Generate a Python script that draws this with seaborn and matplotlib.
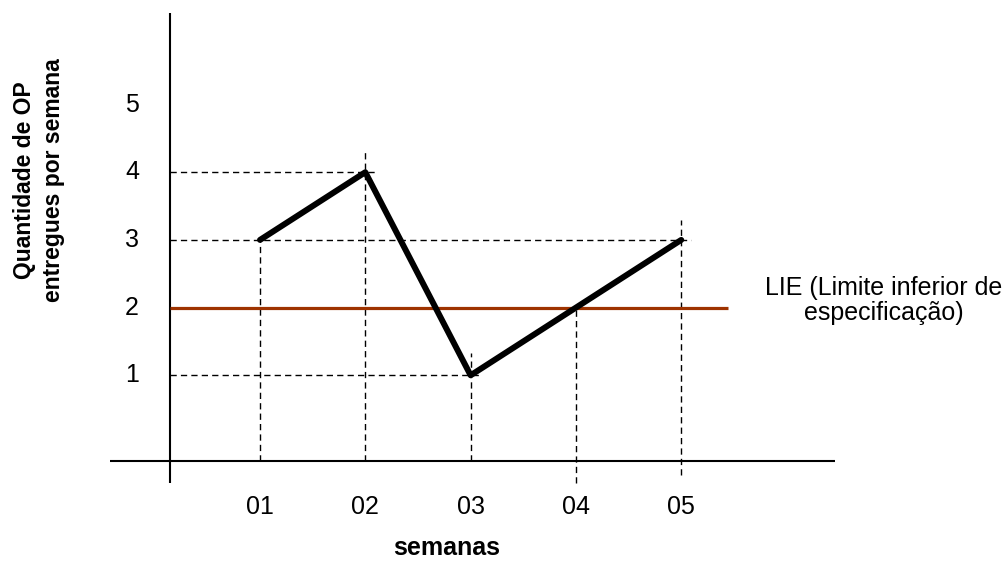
import numpy as np
import pandas as pd
import matplotlib
matplotlib.use("Agg")
import matplotlib.pyplot as plt
import seaborn as sns

# dados do gráfico
semanas = ["01", "02", "03", "04", "05"]
qtd_op = [3, 4, 1, 2, 3]
y_ticks = [1, 2, 3, 4, 5]
lie = 2
lie_texto = "LIE (Limite inferior de\nespecificação)"

sns.set_style("white")
plt.rcParams["font.family"] = ["Liberation Sans", "DejaVu Sans"]
plt.rcParams["text.color"] = "black"

df = pd.DataFrame({"pos": np.arange(1, len(semanas) + 1), "semana": semanas, "qtd": qtd_op})

fig = plt.figure(figsize=(10.08, 5.61), dpi=100)
ax = fig.add_axes([0, 0, 1, 1])
ax.set_xlim(-1.469, 8.103)
ax.set_ylim(-1.743, 6.544)
ax.axis("off")

# eixos desenhados a mao (cruzados)
x0, y0 = 0.145, -0.266
ax.plot([x0, x0], [-0.59, 6.35], color="black", lw=1.5, solid_capstyle="butt")
ax.plot([-0.425, 6.46], [y0, y0], color="black", lw=1.5, solid_capstyle="butt")

dash = dict(color="black", lw=1.0, linestyle=(0, (4.5, 3)))

# linhas tracejadas verticais
sobra_cima = [0.0, 0.3, 0.33, 0.0, 0.3]
sobra_baixo = [0.0, 0.0, 0.0, 0.33, 0.2]
for i, row in df.iterrows():
    ax.plot([row["pos"], row["pos"]], [y0 - sobra_baixo[i], row["qtd"] + sobra_cima[i]], **dash)

# linhas tracejadas horizontais
for v in sorted(set(qtd_op)):
    if v == lie:
        continue
    xmax = df.loc[df["qtd"] == v, "pos"].max()
    ax.plot([x0, xmax + 0.09], [v, v], **dash)

# LIE
ax.plot([x0, len(semanas) + 0.444], [lie, lie], color="#9E3300", lw=2.3, solid_capstyle="butt")
ax.text(len(semanas) + 1.92, lie + 0.11, lie_texto, ha="center", va="center",
        multialignment="center", fontsize=18, linespacing=1.05)

# serie principal
sns.lineplot(data=df, x="pos", y="qtd", ax=ax, color="black", lw=4.3, legend=False)

# rotulos
for v in y_ticks:
    ax.text(-0.216, v, str(v), ha="center", va="center", fontsize=18)
for p, s in zip(df["pos"], semanas):
    ax.text(p, -0.95, s, ha="center", va="center", fontsize=18)

fig.text(447 / 1008, 1 - 548 / 561, "semanas", ha="center", va="center",
         fontsize=18, fontweight="bold")
fig.text(39 / 1008, 1 - 180 / 561, "Quantidade de OP\nentregues por semana", ha="center",
         va="center", rotation=90, multialignment="center", fontsize=16.5, fontweight="bold",
         linespacing=1.3)

fig.savefig("out.png", dpi=100)
